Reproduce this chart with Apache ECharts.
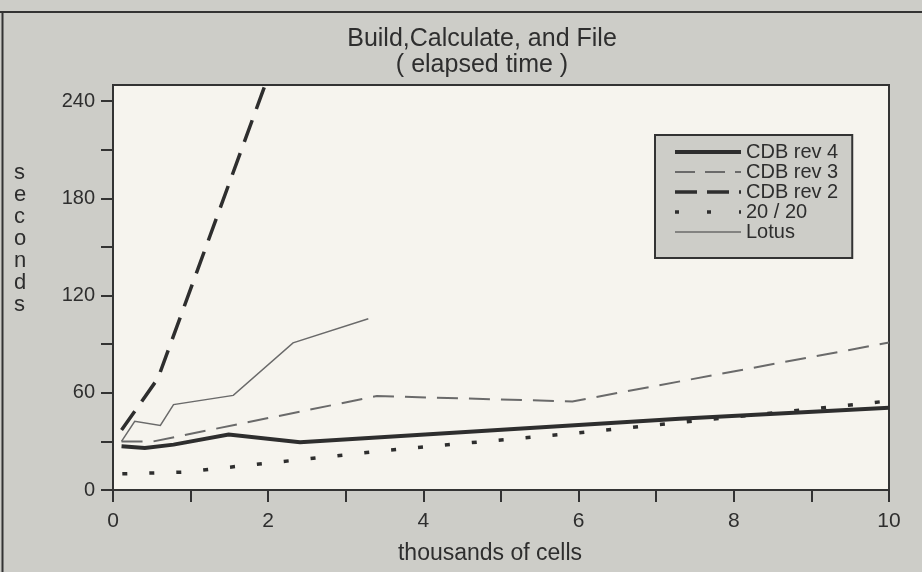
<!DOCTYPE html>
<html>
<head>
<meta charset="utf-8">
<script src="https://cdn.jsdelivr.net/npm/echarts@6/dist/echarts.min.js"></script>
<style>
html,body{margin:0;padding:0;background:#cdcdc8;}
#chart{width:922px;height:572px;}
</style>
</head>
<body>
<div id="chart"></div>
<script>
// ---- data (x: thousands of cells, y: seconds) ----
const seriesNames = ['CDB rev 4', 'CDB rev 3', 'CDB rev 2', '20 / 20', 'Lotus'];
const cdbRev4 = [[0.11, 27], [0.41, 26], [0.78, 28], [1.49, 34.2], [2.41, 29.5], [7.3, 44], [10, 50.7]];
const cdbRev3 = [[0.11, 30], [0.52, 30], [3.4, 58], [5.92, 54.7], [10, 91]];
const cdbRev2 = [[0.11, 37], [0.58, 69], [1.96, 250]];
const twenty20 = [[0.12, 10], [0.9, 11], [3.54, 24.5], [6.0, 35.3], [8.4, 47], [10, 55]];
const lotus = [[0.11, 30], [0.28, 42.4], [0.61, 39.8], [0.78, 52.7], [1.55, 58.4], [2.32, 90.8], [3.29, 105.7]];
const xTickValues = [0, 1, 2, 3, 4, 5, 6, 7, 8, 9, 10];
const xLabelValues = [0, 2, 4, 6, 8, 10];
const yTickValues = [0, 30, 60, 90, 120, 150, 180, 210, 240];
const yLabelValues = [0, 60, 120, 180, 240];
const titleLines = ['Build,Calculate, and File', '( elapsed time )'];
const xAxisName = 'thousands of cells';
const yAxisName = 'seconds';

const FONT = 'Liberation Sans, Arial, sans-serif';
const INK = '#2e2e2e';
const GREY = '#6a6a6a';

const chart = echarts.init(document.getElementById('chart'), null, {renderer: 'canvas'});

const styles = [
  {color: INK, width: 4, type: 'solid'},
  {color: GREY, width: 2, type: [21, 11]},
  {color: INK, width: 3.5, type: [23, 12]},
  {color: INK, width: 3.5, type: [5, 22]},
  {color: GREY, width: 1.5, type: 'solid'}
];
const legendDash = ['solid', [20, 10], [22, 10], [4, 28], 'solid'];
const datas = [cdbRev4, cdbRev3, cdbRev2, twenty20, lotus];

chart.setOption({
  backgroundColor: '#cdcdc8',
  animation: false,
  textStyle: {fontFamily: FONT},
  title: {
    text: titleLines.join('\n'),
    left: 477,
    top: 21,
    textAlign: 'center',
    textStyle: {fontFamily: FONT, fontSize: 25, fontWeight: 'normal', color: INK, lineHeight: 26, align: 'center'}
  },
  grid: {
    left: 113, right: 33, top: 85, bottom: 82,
    outerBoundsMode: 'none',
    containLabel: false,
    show: true,
    backgroundColor: '#f6f4ee',
    borderColor: '#333',
    borderWidth: 2
  },
  legend: {
    orient: 'vertical',
    left: 655,
    top: 135,
    data: seriesNames.map((n, i) => ({
      name: n,
      lineStyle: {width: styles[i].width, color: styles[i].color, type: legendDash[i], cap: 'butt'}
    })),
    itemWidth: 66,
    itemHeight: 12,
    itemGap: 0,
    padding: [7, 14, 16, 18],
    backgroundColor: '#cdcdc8',
    borderColor: '#333',
    borderWidth: 2,
    borderRadius: 0,
    itemStyle: {opacity: 0},
    textStyle: {fontFamily: FONT, fontSize: 20, color: INK, lineHeight: 19.5}
  },
  xAxis: {
    type: 'value',
    min: 0, max: 10, interval: 1,
    name: xAxisName,
    nameLocation: 'middle',
    nameGap: 52,
    nameTextStyle: {fontFamily: FONT, fontSize: 23, color: INK, padding: [0, 22, 0, 0]},
    splitLine: {show: false},
    axisLine: {show: true, lineStyle: {color: '#333', width: 2}},
    axisTick: {show: true, inside: false, length: 12, lineStyle: {color: '#333', width: 2}, customValues: xTickValues},
    axisLabel: {fontFamily: FONT, fontSize: 21, color: INK, margin: 21, customValues: xLabelValues}
  },
  yAxis: {
    type: 'value',
    min: 0, max: 250,
    splitLine: {show: false},
    axisLine: {show: true, lineStyle: {color: '#333', width: 2}},
    axisTick: {show: true, inside: false, length: 12, lineStyle: {color: '#333', width: 2}, customValues: yTickValues},
    axisLabel: {fontFamily: FONT, fontSize: 20, color: INK, margin: 18, customValues: yLabelValues}
  },
  graphic: [
    {type: 'line', shape: {x1: 0, y1: 12, x2: 922, y2: 12}, style: {stroke: '#333', lineWidth: 2}},
    {type: 'line', shape: {x1: 2.5, y1: 12, x2: 2.5, y2: 572}, style: {stroke: '#333', lineWidth: 2}},
    {type: 'text', left: 14, top: 162,
     style: {text: yAxisName.split('').join('\n'), font: '22px ' + FONT, fill: INK, lineHeight: 22, align: 'center'}}
  ],
  series: seriesNames.map((n, i) => ({
    name: n,
    type: 'line',
    data: datas[i],
    symbol: 'none',
    showSymbol: false,
    clip: true,
    lineStyle: {color: styles[i].color, width: styles[i].width, type: styles[i].type, cap: 'butt', join: 'miter'},
    itemStyle: {color: styles[i].color}
  }))
});
</script>
</body>
</html>
